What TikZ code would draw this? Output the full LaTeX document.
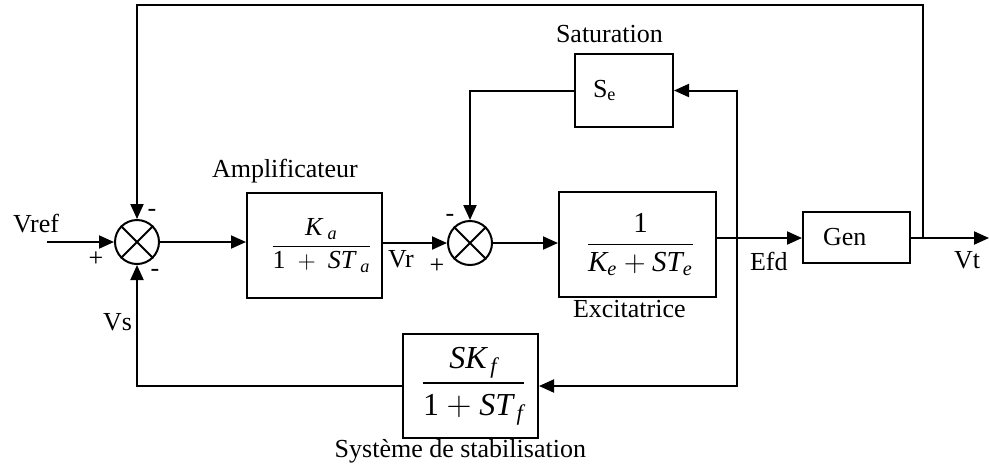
\documentclass[tikz,border=0pt]{standalone}
\usepackage{fontspec}
\setmainfont{Liberation Serif}
\usepackage{amsmath}
\usetikzlibrary{arrows.meta,calc}
\newcommand{\mi}[1]{\text{\itshape #1}}
\begin{document}
\begin{tikzpicture}[x=0.5pt,y=-0.5pt,line width=1pt,
  font=\fontsize{13}{15}\selectfont,
  box/.style={draw,line width=1pt,inner sep=0pt},
  sumnode/.style={draw,circle,line width=1pt,minimum size=22pt,inner sep=0pt},
  arr/.style={-{Triangle[length=7.5pt,width=6.5pt]}},
  lbl/.style={anchor=base west,inner sep=0pt}]
\useasboundingbox (0,0) rectangle (989,468);

% blocks
\node[sumnode] (s1) at (137,242) {};
\node[sumnode] (s2) at (470,243) {};
\draw (s1.north east) -- (s1.south west) (s1.north west) -- (s1.south east);
\draw (s2.north east) -- (s2.south west) (s2.north west) -- (s2.south east);

\node[box,minimum width=67.5pt,minimum height=52.5pt] (amp) at (314.5,245.5)
  {\hspace*{7pt}$\dfrac{\mi{K}_{\;\mi{a}}}{\text{1}\;+\;\mi{ST}_{\;\mi{a}}}$};
\node[box,minimum width=78.5pt,minimum height=52.5pt,font=\fontsize{14.5}{17}\selectfont] (exc) at (637.5,244.5)
  {\hspace*{3pt}$\dfrac{\text{1}}{\mi{K}_{\mi{e}}+\mi{ST}_{\mi{e}}}$};
\node[box,minimum width=49pt,minimum height=36.5pt,inner xsep=9pt,text width=31pt,align=left] (se) at (624,90.5)
  {S\textsubscript{e}};
\node[box,minimum width=53.5pt,minimum height=25.5pt,inner xsep=10pt,text width=33.5pt,align=left] (gen) at (856.5,237.5)
  {Gen};
\node[box,minimum width=67.5pt,minimum height=52pt,font=\fontsize{16}{19}\selectfont] (stab) at (470.5,386)
  {\hspace*{3pt}$\dfrac{\mi{SK}_{\,\mi{f}}}{\text{1}+\mi{ST}_{\,\mi{f}}}$};

% helper coordinates
\coordinate (vin) at (47,242);
\coordinate (j1) at (737,238);
\coordinate (j2) at (923,238);
\coordinate (tr) at (923,5);
\coordinate (vout) at (989,238);

% connectors
\draw[arr] (vin) -- (s1.west);
\draw[arr] (s1.east) -- (s1 -| amp.west);
\draw[arr] (amp.east |- s2) -- (s2.west);
\draw[arr] (s2.east) -- (s2 -| exc.west);
\draw[arr] (exc.east |- j1) -- (gen.west |- j1);
\draw[arr] (gen.east |- j2) -- (vout);
\draw[arr] (j1) |- (se.east);
\draw[arr] (j1) |- (stab.east);
\draw[arr] (se.west) -| (s2.north);
\draw[arr] (stab.west) -| (s1.south);
\draw[arr] (j2) -- (tr) -| (s1.north);

% labels
\node[lbl] (lvref) at (12,232) {Vref};
\node (lp1) at (96,259) {+};
\node (lm1) at (152,213) {-};
\node (lm2) at (155,273) {-};
\node[lbl] (lvs) at (102,330) {Vs};
\node[lbl] (lamp) at (211,177) {Amplificateur};
\node[lbl] (lvr) at (387,267) {Vr};
\node (lp2) at (437,266) {+};
\node (lm3) at (450,218) {-};
\node[lbl] (lsat) at (555,42) {Saturation};
\node[lbl] (lexc) at (572,317) {Excitatrice};
\node[lbl] (lefd) at (749,270) {Efd};
\node[lbl] (lvt) at (953,268) {Vt};
\node[anchor=base east,inner sep=0pt] (lstab) at (587,457) {Système de stabilisation};
\end{tikzpicture}
\end{document}
